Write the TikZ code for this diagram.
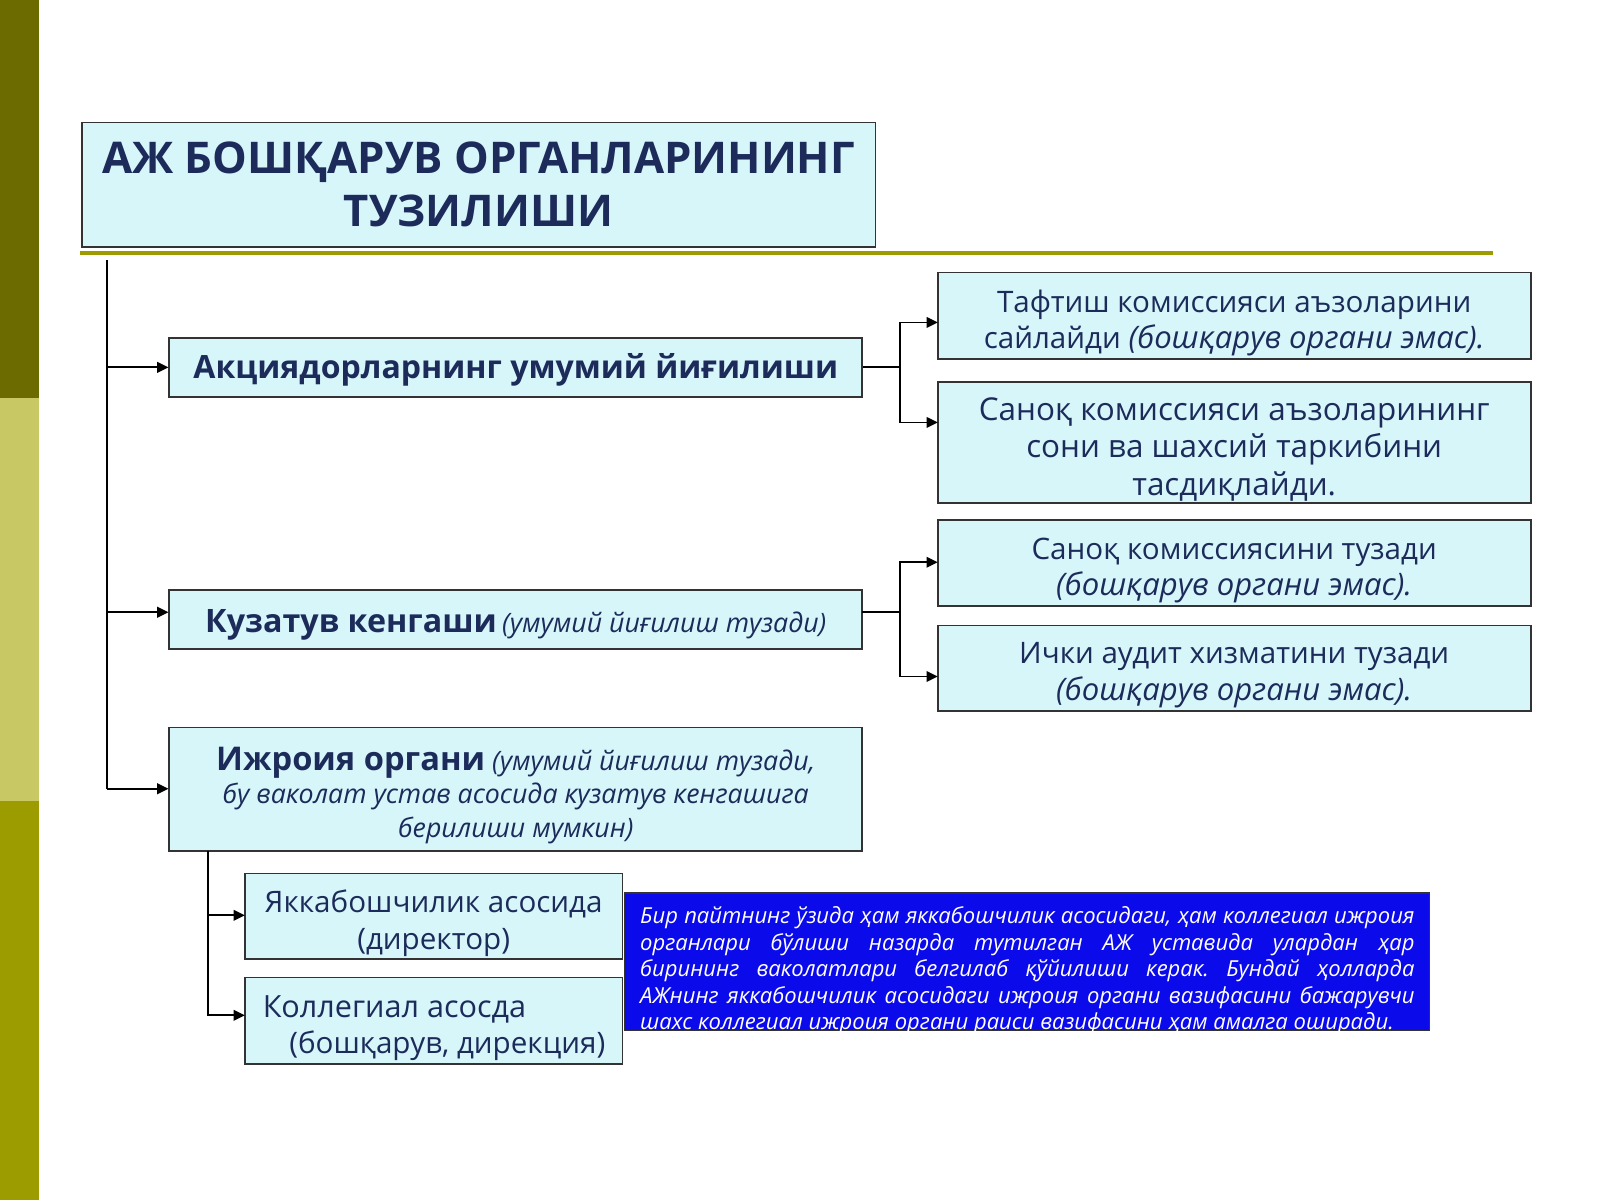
\documentclass[tikz,border=0pt]{standalone}
\usepackage{fontspec}
\setmainfont{Open Sans}
\usetikzlibrary{arrows.meta}
\definecolor{txt}{HTML}{1C2B5A}
\definecolor{boxfill}{HTML}{D6F6FA}
\definecolor{olivedark}{HTML}{6B6B00}
\definecolor{olivelight}{HTML}{C8C865}
\definecolor{olivemid}{HTML}{9C9C00}
\definecolor{oliveline}{HTML}{9C9C00}
\definecolor{bluebox}{HTML}{0A0AEB}
\begin{document}
\begin{tikzpicture}[x=0.5pt,y=-0.5pt,
  box/.style={draw=black!80, line width=0.9pt, fill=boxfill, text=txt, inner sep=0pt, align=center},
  tx/.style={text=txt, inner sep=0pt, align=center},
  arr/.style={-{Triangle[length=5.5pt,width=5.2pt]}, line width=0.85pt, black},
  conn/.style={line width=0.85pt, black},
  mid/.style={font=\fontsize{14.5pt}{18pt}\selectfont}]
\useasboundingbox (0,0) rectangle (1568,1176);
\fill[white] (0,0) rectangle (1568,1176);
\fill[olivedark] (0,0) rectangle (38,390);
\fill[olivelight] (0,390) rectangle (38,785);
\fill[olivemid] (0,785) rectangle (38,1176);

% title
\node[box, minimum width=389pt, minimum height=61pt,
  font=\bfseries\fontsize{21.4pt}{26pt}\selectfont] (title) at (469,181)
  {АЖ БОШҚАРУВ ОРГАНЛАРИНИНГ\\ТУЗИЛИШИ};
\draw[oliveline, line width=1.6pt] (78,248) -- (1463,248);

% left column boxes
\node[box, minimum width=339.5pt, minimum height=29pt] (A) at (505.5,360) {};
\node[tx, font=\bfseries\fontsize{15.7pt}{20pt}\selectfont] (At) at ([yshift=-1pt]A.center)
  {Акциядорларнинг умумий йиғилиши};
\node[box, minimum width=339.5pt, minimum height=29pt] (K) at (505.5,607) {};
\node[tx] (Kt) at ([yshift=-2.5pt]K.center)
  {{\bfseries\fontsize{15.8pt}{20pt}\selectfont Кузатув кенгаши} {\itshape\fontsize{13.1pt}{16pt}\selectfont (умумий йиғилиш тузади)}};
\node[box, minimum width=339.5pt, minimum height=60.5pt] (I) at (505.5,773.5) {};
\node[tx, font=\itshape\fontsize{13.1pt}{16.3pt}\selectfont] (It) at ([yshift=-3pt]I.center)
  {{\upshape\bfseries\fontsize{16pt}{16.3pt}\selectfont Ижроия органи} (умумий йиғилиш тузади,\\бу ваколат устав асосида кузатув кенгашига\\берилиши мумкин)};

% right boxes
\node[box, minimum width=290.5pt, minimum height=42.5pt] (R1) at (1209.5,309.5) {};
\node[tx, mid] (R1t) at ([yshift=-3.5pt]R1.center)
  {Тафтиш комиссияси аъзоларини\\сайлайди {\itshape\fontsize{15.2pt}{18pt}\selectfont (бошқарув органи эмас).}};
\node[box, minimum width=290.5pt, minimum height=59.5pt] (R2) at (1209.5,433.5) {};
\node[tx, font=\fontsize{15.4pt}{18.5pt}\selectfont] (R2t) at ([yshift=-3.5pt]R2.center)
  {Саноқ комиссияси аъзоларининг\\сони ва шахсий таркибини\\тасдиқлайди.};
\node[box, minimum width=290.5pt, minimum height=42pt] (R3) at (1209.5,552) {};
\node[tx, mid] (R3t) at ([yshift=-3.5pt]R3.center)
  {Саноқ комиссиясини тузади\\{\itshape\fontsize{15.2pt}{18pt}\selectfont (бошқарув органи эмас).}};
\node[box, minimum width=290.5pt, minimum height=42pt] (R4) at (1209.5,655) {};
\node[tx, mid] (R4t) at ([yshift=-3.5pt]R4.center)
  {Ички аудит хизматини тузади\\{\itshape\fontsize{15.2pt}{18pt}\selectfont (бошқарув органи эмас).}};

% sub boxes
\node[box, minimum width=185pt, minimum height=42pt] (Y) at (425,898) {};
\node[tx, mid] (Yt) at ([yshift=-3.5pt]Y.center)
  {Яккабошчилик асосида\\(директор)};
\node[box, minimum width=185pt, minimum height=42.5pt] (Kol) at (425,1000.5) {};
\node[tx, mid, align=left, anchor=west] (Kolt) at ([xshift=9pt,yshift=-3.5pt]Kol.west)
  {{\fontsize{15pt}{18pt}\selectfont Коллегиал асосда}\\\hspace*{13pt}(бошқарув, дирекция)};

% blue note
\node[draw=black!80, line width=0.8pt, fill=bluebox, inner sep=0pt,
  minimum width=394.5pt, minimum height=67.5pt] (B) at (1006.5,942.5) {};
\begin{scope}
\clip (612,875) rectangle (1401,1010);
\node[anchor=north west, inner sep=0pt, text=white, text width=379.5pt, align=justify,
  font=\itshape\fontsize{10.8pt}{13pt}\selectfont] (Btxt) at (627,888)
  {\frenchspacing\hyphenpenalty=10000\exhyphenpenalty=10000 Бир пайтнинг ўзида ҳам яккабошчилик асосидаги, ҳам коллегиал ижроия\linebreak
   органлари бўлиши назарда тутилган АЖ уставида улардан ҳар\linebreak
   бирининг ваколатлари белгилаб қўйилиши керак. Бундай ҳолларда\linebreak
   АЖнинг яккабошчилик асосидаги ижроия органи вазифасини бажарувчи\linebreak
   шахс коллегиал ижроия органи раиси вазифасини ҳам амалга оширади.};
\end{scope}

% main trunk
\coordinate (top) at (105,255);
\coordinate (bot) at (105,773);
\coordinate (tA) at (105,360);
\coordinate (tK) at (105,600);
\draw[conn] (top) -- (bot);
\draw[arr] (tA) -- (A.west |- tA);
\draw[arr] (tK) -- (K.west |- tK);
\draw[arr] (bot) -- (I.west |- bot);

% A branch
\coordinate (jA) at (882,360);
\coordinate (r1in) at (919,316);
\coordinate (r2in) at (919,414);
\draw[conn] (A.east) -- (jA);
\draw[arr] (jA) |- (r1in);
\draw[arr] (jA) |- (r2in);

% K branch
\coordinate (kout) at (845,600);
\coordinate (jK) at (882,600);
\coordinate (r3in) at (919,551);
\coordinate (r4in) at (919,663);
\draw[conn] (kout) -- (jK);
\draw[arr] (jK) |- (r3in);
\draw[arr] (jK) |- (r4in);

% I branch
\coordinate (itop) at (204,834);
\coordinate (yin) at (240,897);
\coordinate (kin) at (240,995);
\draw[arr] (itop) |- (yin);
\draw[arr] (itop) |- (kin);
\end{tikzpicture}
\end{document}
